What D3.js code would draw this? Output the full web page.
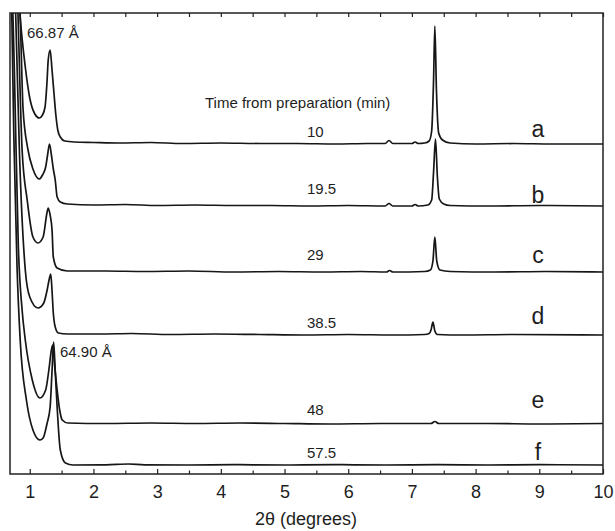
<!DOCTYPE html>
<html>
<head>
<meta charset="utf-8">
<script src="https://cdn.jsdelivr.net/npm/d3@7"></script>
<style>
  body { margin: 0; background: #fff; }
  text { font-family: "Liberation Sans", Arial, sans-serif; fill: #1e1e1e; }
</style>
</head>
<body>
<div class="container"></div>
<script>
// 2theta (deg) vs intensity (a.u.), traces stacked with offsets
var traceNames = ['a', 'b', 'c', 'd', 'e', 'f'];
var timeLabels = ['10', '19.5', '29', '38.5', '48', '57.5'];
var offsets = [329, 267, 201, 138, 49, 8];
var xTicks = [1, 2, 3, 4, 5, 6, 7, 8, 9, 10];
var xMinor = [1.5, 2.5, 3.5, 4.5, 5.5, 6.5, 7.5, 8.5, 9.5];

var traceA = [[0.70,300],[0.78,200],[0.85,128],[0.93,78],[1.00,47],[1.08,31],[1.15,27],[1.20,30],[1.24,38],[1.27,62],[1.29,85],[1.32,95],[1.35,75],[1.38,52],[1.41,30],[1.44,15],[1.48,8],[1.55,4],[1.7,3],[2.0,2.5],[2.4,2],[2.9,2.5],[3.4,1.5],[4.0,2],[4.6,1.5],[5.2,1.5],[5.8,1],[6.3,1.5],[6.58,1.5],[6.64,4.5],[6.70,1.5],[7.0,1.5],[7.05,3],[7.10,1.5],[7.2,2],[7.27,4],[7.31,14],[7.34,65],[7.36,119],[7.385,55],[7.42,12],[7.48,5],[7.6,2],[8.0,1],[8.6,1.5],[9.2,1],[10,1]];
var traceB = [[0.70,380],[0.78,270],[0.85,190],[0.895,98],[0.97,58],[1.05,38],[1.15,28],[1.20,32],[1.25,40],[1.28,52],[1.31,63],[1.34,52],[1.37,38],[1.40,27],[1.43,10],[1.48,5],[1.59,3],[2.0,2],[2.5,2.5],[3.0,1.5],[3.6,2],[4.2,1.5],[4.8,1.5],[5.4,1],[6.0,1.5],[6.58,1],[6.64,3.5],[6.70,1],[7.0,1],[7.05,2.5],[7.10,1],[7.25,2],[7.31,7],[7.34,35],[7.37,68],[7.40,30],[7.43,8],[7.5,3],[7.6,1.5],[8.2,1],[9.0,1.5],[10,1]];
var traceC = [[0.70,420],[0.80,290],[0.88,123],[0.96,73],[1.05,36],[1.13,30],[1.21,36],[1.27,60],[1.29,65],[1.32,58],[1.35,43],[1.37,16],[1.43,5],[1.59,2],[2.2,2],[2.8,1.5],[3.5,2],[4.2,1],[4.9,1.5],[5.6,1],[6.2,1.5],[6.60,1],[6.65,2.5],[6.70,1],[7.2,1.5],[7.29,3],[7.33,12],[7.36,36],[7.39,12],[7.44,3],[7.6,1.5],[8.3,1],[9.1,1.5],[10,1]];
var traceD = [[0.70,450],[0.78,320],[0.84,180],[0.93,66],[1.00,39],[1.13,28],[1.22,33],[1.27,45],[1.31,58],[1.33,62],[1.35,45],[1.37,23],[1.40,9],[1.45,3],[1.59,2],[2.1,2],[2.6,2.5],[3.2,1.5],[3.9,2],[4.6,1.5],[5.3,1],[6.0,1.5],[6.7,1],[7.2,1.5],[7.27,2.5],[7.30,6],[7.33,14],[7.36,5],[7.40,1.5],[7.8,1],[8.6,1.5],[10,1]];
var traceE = [[0.70,500],[0.76,350],[0.82,180],[0.88,115],[0.93,85],[1.04,45],[1.16,27],[1.25,35],[1.30,55],[1.34,75],[1.36,80],[1.39,60],[1.43,35],[1.47,15],[1.51,5],[1.60,2],[2.2,1.5],[2.9,2],[3.6,1.5],[4.3,2],[5.0,1.5],[5.7,1],[6.5,1.5],[7.3,1.5],[7.36,3.5],[7.42,1.5],[8.2,1.5],[9.0,1],[10,1.5]];
var traceF = [[0.70,520],[0.75,330],[0.80,200],[0.85,126],[0.95,65],[1.05,36],[1.16,26],[1.21,28],[1.27,42],[1.32,59],[1.35,95],[1.375,124],[1.40,95],[1.43,59],[1.48,16],[1.56,3],[1.68,1],[2.2,1.2],[2.55,2],[2.8,1.2],[3.5,1],[4.2,1.3],[5.0,1],[5.8,1.3],[6.6,1],[7.4,1.3],[8.2,1],[9.0,1.3],[10,1]];

var traces = [traceA, traceB, traceC, traceD, traceE, traceF];

var width = 615, height = 531;
var mLeft = 10, mRight = 603, mTop = 13, mBottom = 474;

var svg = d3.select('.container').append('svg')
	.attr('width', width).attr('height', height);

var x = d3.scaleLinear().domain([0.69, 10]).range([mLeft, mRight]);
var y = d3.scaleLinear().domain([0, 461]).range([mBottom, mTop]);

svg.append('clipPath').attr('id', 'plotclip')
	.append('rect')
	.attr('x', mLeft).attr('y', mTop)
	.attr('width', mRight - mLeft).attr('height', mBottom - mTop);

var line = d3.line()
	.x(function(d){ return x(d[0]); })
	.y(function(d){ return y(d[1]); })
	.curve(d3.curveMonotoneX);

svg.append('g').attr('clip-path', 'url(#plotclip)')
	.selectAll('path')
	.data(traces)
	.enter()
	.append('path')
	.attr('d', function(d, i){
		return line(d.map(function(p){ return [p[0], p[1] + offsets[i]]; }));
	})
	.attr('fill', 'none')
	.attr('stroke', '#161616')
	.attr('stroke-width', 1.7)
	.attr('stroke-linejoin', 'round');

// frame
svg.append('rect')
	.attr('x', mLeft).attr('y', mTop)
	.attr('width', mRight - mLeft).attr('height', mBottom - mTop)
	.attr('fill', 'none').attr('stroke', '#222').attr('stroke-width', 1.5);

// ticks pointing inward
var gb = svg.append('g').attr('transform', 'translate(0,' + mBottom + ')')
	.call(d3.axisBottom(x).tickValues(xTicks).tickSizeInner(-5).tickSizeOuter(0).tickPadding(11.5).tickFormat(d3.format('d')));
gb.select('.domain').remove();
gb.selectAll('text').style('font-size', '18px').attr('fill', '#1e1e1e');

var gbm = svg.append('g').attr('transform', 'translate(0,' + mBottom + ')')
	.call(d3.axisBottom(x).tickValues(xMinor).tickSizeInner(-3.5).tickSizeOuter(0).tickFormat(''));
gbm.select('.domain').remove();

var gt = svg.append('g').attr('transform', 'translate(0,' + mTop + ')')
	.call(d3.axisTop(x).tickValues(xTicks.concat(xMinor)).tickSizeInner(-4).tickSizeOuter(0).tickFormat(''));
gt.select('.domain').remove();

svg.selectAll('.tick line').attr('stroke', '#222').attr('stroke-width', 1.2);

// axis title
svg.append('text')
	.attr('x', 306).attr('y', 525)
	.attr('text-anchor', 'middle')
	.style('font-size', '18px')
	.text('2θ (degrees)');

// trace letters and time labels
var letterGap = [8, 4, 10, 12, 17, 6];
var timeGap = [8, 13, 13, 8, 10, 8];

svg.selectAll('.letter')
	.data(traceNames)
	.enter()
	.append('text')
	.attr('class', 'letter')
	.attr('x', 538)
	.attr('y', function(d, i){ return y(offsets[i]) - letterGap[i]; })
	.attr('text-anchor', 'middle')
	.style('font-size', '23px')
	.text(function(d){ return d; });

svg.selectAll('.time')
	.data(timeLabels)
	.enter()
	.append('text')
	.attr('class', 'time')
	.attr('x', 307)
	.attr('y', function(d, i){ return y(offsets[i]) - timeGap[i]; })
	.style('font-size', '15px')
	.text(function(d){ return d; });

svg.append('text')
	.attr('x', 205).attr('y', 108)
	.style('font-size', '15px')
	.text('Time from preparation (min)');

svg.append('text')
	.attr('x', 27).attr('y', 38)
	.style('font-size', '15px')
	.text('66.87 Å');

svg.append('text')
	.attr('x', 60).attr('y', 357)
	.style('font-size', '15px')
	.text('64.90 Å');
</script>
</body>
</html>
